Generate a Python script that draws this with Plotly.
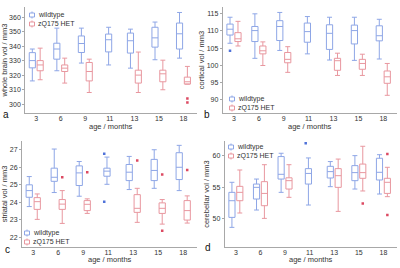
import plotly.graph_objects as go

ages = ["3", "6", "9", "11", "13", "15", "18"]

# each entry: [lower whisker, Q1, median, Q3, upper whisker]; None = no group
wb_wt = [[316, 325, 330, 335.5, 338], [323, 331, 338, 342, 352.4], [328.3, 335.6, 341.8, 347, 352.4],
         [327, 336, 344.4, 348.3, 353], [324.8, 335.2, 343.7, 349, 351.7], [330.6, 339.3, 345.7, 353, 356.6],
         [331.7, 338, 348.5, 355.9, 363.2]]
wb_het = [[316.8, 323, 327, 330, 338.6], [314.5, 322.5, 324.8, 327, 331.7], [308, 316, 322.5, 328.7, 331],
          None, [308, 314.5, 320, 323.4, 335.9], [309.9, 315.4, 320.9, 323.4, 330.3],
          [313.8, 313.8, 315.4, 318.6, 326]]
wb_wt_out = []
wb_het_out = [("18", 303.9), ("18", 301.1)]

cx_wt = [[106.4, 108.8, 110.5, 112, 114], [102, 106.9, 110.1, 111.3, 115], [104.3, 107.2, 111.3, 113, 115.4],
         [103.3, 106.7, 109.8, 112.3, 114.2], [101.5, 104.6, 109.3, 111.8, 114], [101.4, 106.2, 110.1, 111.7, 114],
         [101.8, 107.1, 108.6, 111.5, 113.4]]
cx_het = [[105.6, 106.9, 107.7, 109.5, 112.8], [99.9, 103.3, 104.2, 105.6, 106.8], [97.9, 100.7, 101.7, 103.7, 105.4],
          None, [97, 98.5, 101.3, 102, 103.5], [97, 98.8, 100.5, 101.7, 103.2],
          [91.2, 94.7, 96.6, 98.3, 100.5]]
cx_wt_out = [("3", 104.2)]
cx_het_out = []

st_wt = [[23.76, 24.29, 24.67, 25.0, 25.47], [24.56, 25.2, 25.43, 25.95, 27.04], [24.35, 24.96, 25.68, 26.08, 26.33],
         [25.03, 25.49, 25.78, 25.95, 26.58], [24.73, 25.24, 25.72, 26.16, 26.62], [24.8, 25.24, 25.82, 26.45, 27.0],
         [24.67, 25.3, 26.0, 26.83, 27.25]]
st_het = [[23.03, 23.6, 24.04, 24.27, 24.48], [22.8, 23.6, 23.9, 24.16, 24.67], [23.37, 23.53, 23.89, 24.1, 24.2],
          None, [22.86, 23.43, 23.66, 24.44, 24.8], [22.76, 23.37, 23.66, 23.97, 24.16],
          [22.82, 22.99, 23.53, 24.1, 24.37]]
st_wt_out = [("11", 26.77), ("11", 24.04)]
st_het_out = [("6", 25.43), ("9", 25.72), ("13", 26.39), ("15", 25.59), ("15", 22.38), ("18", 25.85)]

cb_wt = [[48.56, 50.16, 52.83, 54.17, 55.78], [51.34, 53.1, 54.97, 55.5, 56.3], [54.17, 56.3, 57.06, 59.9, 60.43],
         [52.14, 55.5, 57.2, 57.97, 59.68], [55.08, 56.47, 57.49, 58.34, 59.1], [54.7, 56.04, 57.33, 58.45, 60.05],
         [53.9, 56.15, 57.38, 59.63, 60.2]]
cb_het = [[50.86, 52.83, 54.17, 55.13, 57.75], [50.0, 52.03, 54.0, 55.88, 58.6], [53.37, 54.7, 56.04, 56.5, 58.6],
          None, [51.12, 54.97, 56.84, 57.97, 59.5], [54.39, 56.42, 57.33, 58.7, 61.55],
          [53.48, 54.0, 55.78, 56.42, 58.18]]
cb_wt_out = [("11", 62.03)]
cb_het_out = [("15", 52.4), ("18", 60.3), ("18", 50.53)]

y_titles = ["whole brain vol / mm3", "cortical vol / mm3", "striatal vol / mm3", "cerebellar vol / mm3"]
x_title = "age / months"
panel_letters = ["a", "b", "c", "d"]
series_names = ["wildtype", "zQ175 HET"]

panels = [(wb_wt, wb_het, wb_wt_out, wb_het_out),
          (cx_wt, cx_het, cx_wt_out, cx_het_out),
          (st_wt, st_het, st_wt_out, st_het_out),
          (cb_wt, cb_het, cb_wt_out, cb_het_out)]

WT_LINE = "#8ea6e6"
HET_LINE = "#e8979f"
WT_PT = "#4f72d9"
HET_PT = "#dc4a62"
FONT = "Liberation Sans"
W, H = 400, 268

# layout (paper coords)
xdoms = [(0.063, 0.493), (0.557, 0.993), (0.055, 0.493), (0.562, 0.993)]
ydoms = [(0.578, 0.974), (0.578, 0.974), (0.078, 0.474), (0.078, 0.474)]
yranges = [(293.8, 367), (86, 117), (21.45, 27.5), (45.4, 62.4)]
ydticks = [10, 5, 1, 5]
# legend first-item symbol centre, in pixels (x, y), row step in px
legend_px = [(32, 15), (232, 99), (27, 233), (231, 147)]
LEG_STEP = 9
letter_pos = [(0.015, 0.573), (0.518, 0.573), (0.018, 0.068), (0.52, 0.075)]
# x-axis title centre, in pixels below the top of the picture
xtitle_px_y = [126, 126, 259, 259]

OFF = 0.16
BOXW = 0.25

fig = go.Figure()
layout = dict(width=W, height=H, margin=dict(l=0, r=0, t=0, b=0),
              paper_bgcolor="white", plot_bgcolor="white", showlegend=False,
              font=dict(family=FONT, size=7, color="#333"))
annotations = []
shapes = []

for p, (wt, het, wt_out, het_out) in enumerate(panels):
    n = p + 1
    xa = "x" if n == 1 else f"x{n}"
    ya = "y" if n == 1 else f"y{n}"

    for name, data, line, sign in [(series_names[0], wt, WT_LINE, -1), (series_names[1], het, HET_LINE, 1)]:
        xs, lo, q1, md, q3, hi = [], [], [], [], [], []
        for i, st in enumerate(data):
            if st is None:
                continue
            other = het if sign < 0 else wt
            off = sign * OFF if other[i] is not None else sign * 0.05
            xs.append(i + off)
            lo.append(st[0]); q1.append(st[1]); md.append(st[2]); q3.append(st[3]); hi.append(st[4])
        fig.add_trace(go.Box(
            x=xs, lowerfence=lo, q1=q1, median=md, q3=q3, upperfence=hi,
            name=name, xaxis=xa, yaxis=ya, showlegend=False,
            line=dict(color=line, width=1), fillcolor="rgba(255,255,255,0)",
            width=BOXW, whiskerwidth=0.8, boxpoints=False,
        ))
    for out, col, sign in [(wt_out, WT_PT, -1), (het_out, HET_PT, 1)]:
        if out:
            ox = [ages.index(a) + sign * OFF for a, v in out]
            oy = [v for a, v in out]
            fig.add_trace(go.Scatter(x=ox, y=oy, mode="markers", xaxis=xa, yaxis=ya,
                                     marker=dict(symbol="square", size=2.5, color=col),
                                     showlegend=False, hoverinfo="skip"))

    axis_common = dict(showline=True, linecolor="#a8a8a8", linewidth=1, showgrid=False, zeroline=False,
                       tickfont=dict(family=FONT, size=7, color="#333"))
    layout[f"xaxis{'' if n == 1 else n}"] = dict(
        domain=list(xdoms[p]), anchor=ya, range=[-0.45, 6.56], ticks="",
        tickmode="array", tickvals=list(range(len(ages))), ticktext=ages,
        ticklabelstandoff=-1,
        **axis_common)
    layout[f"yaxis{'' if n == 1 else n}"] = dict(
        domain=list(ydoms[p]), anchor=xa, range=list(yranges[p]), dtick=ydticks[p],
        ticks="outside", ticklen=2, tickcolor="#a8a8a8",
        title=dict(text=y_titles[p], font=dict(family=FONT, size=7.5, color="#333"), standoff=1),
        **axis_common)

    # x-axis title
    annotations.append(dict(text=x_title, x=(xdoms[p][0] + xdoms[p][1]) / 2, y=1 - xtitle_px_y[p] / H,
                            xref="paper", yref="paper", showarrow=False, xanchor="center", yanchor="middle",
                            font=dict(family=FONT, size=7.5, color="#333")))

    # legend (symbol + label) drawn inside panel
    lx, ly = legend_px[p]
    for k, (name, col) in enumerate([(series_names[0], WT_LINE), (series_names[1], HET_LINE)]):
        cy = 1 - (ly + k * LEG_STEP) / H
        cxp = lx / W
        shapes.append(dict(type="rect", xref="paper", yref="paper", xsizemode="pixel", ysizemode="pixel",
                           xanchor=cxp, yanchor=cy, x0=-2.5, x1=2.5, y0=-2, y1=2,
                           line=dict(color=col, width=1), fillcolor="white", layer="above"))
        for s in (1, -1):
            shapes.append(dict(type="line", xref="paper", yref="paper", xsizemode="pixel", ysizemode="pixel",
                               xanchor=cxp, yanchor=cy, x0=0, x1=0, y0=s * 2, y1=s * 3.5,
                               line=dict(color=col, width=1), layer="above"))
        annotations.append(dict(text=name, x=(lx + 4) / W, y=cy, xref="paper", yref="paper",
                                showarrow=False, xanchor="left", yanchor="middle",
                                font=dict(family=FONT, size=7, color="#333")))

    annotations.append(dict(text=panel_letters[p], x=letter_pos[p][0], y=letter_pos[p][1],
                            xref="paper", yref="paper", showarrow=False,
                            font=dict(family=FONT, size=10, color="#111"), xanchor="center", yanchor="middle"))

layout["annotations"] = annotations
layout["shapes"] = shapes
fig.update_layout(**layout)
fig.write_html("out.html", config={"responsive": False, "displayModeBar": False},
               post_script="document.body.style.margin='0px';document.body.style.overflow='hidden';")
